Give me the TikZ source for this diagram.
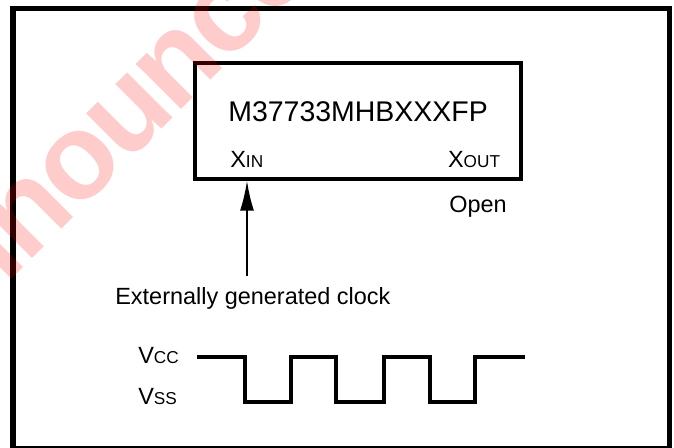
\documentclass[tikz,border=0pt]{standalone}
\usepackage{fontspec}
\setmainfont{Liberation Sans}
\newfontfamily\markfont[LetterSpace=-3]{Liberation Sans Bold}
\usetikzlibrary{arrows.meta,positioning}
\newcommand{\pinname}[2]{#1{\fontsize{9.8}{10}\selectfont #2}}
\tikzset{
  lbl/.style={inner sep=0pt,anchor=base west,font=\fontsize{13.35}{15}\selectfont},
}
\begin{document}
\begin{tikzpicture}[x=0.02cm,y=0.02cm,>={Latex[length=0.6cm,width=0.28cm]}]
\useasboundingbox (0,0) rectangle (674,448);
% outer frame
\draw[line width=0.11cm] (13,-0.5) rectangle (669.7,439.5);
% chip
\node[draw,line width=0.08cm,minimum width=6.53cm,minimum height=2.304cm,inner sep=0pt] (chip) at (357.75,326.9) {};
\node[lbl,font=\fontsize{16.2}{18}\selectfont] (part) at (228,326.3) {M37733MHBXXXFP};
\node[lbl] (xin) at (230,280) {\pinname{X}{IN}};
\node[lbl] (xout) at (447.7,280) {\pinname{X}{OUT}};
\node[lbl] (open) at (449,235) {Open};
% clock input
\node[lbl] (clk) at (115,143) {Externally generated clock};
\coordinate (clktop) at (247,172.3);
\draw[->,line width=0.04cm] (clktop) -- (clktop |- chip.south);
% waveform
\node[lbl] (vcc) at (138,84.7) {\pinname{V}{CC}};
\node[lbl] (vss) at (138,43) {\pinname{V}{SS}};
\draw[line width=0.08cm] (197.3,91.3) -- (245.3,91.3) -- (245.3,45.7) -- (291,45.7) -- (291,91.3)
  -- (336,91.3) -- (336,45.7) -- (384,45.7) -- (384,91.3) -- (430,91.3) -- (430,45.7)
  -- (475.3,45.7) -- (475.3,91.3) -- (525,91.3);
% watermark
\node[inner sep=0pt,anchor=base west,rotate=45,text=red,text opacity=0.2,
  font=\fontsize{69}{72}\selectfont\markfont] (mark) at (-83,74) {Announce};
\end{tikzpicture}
\end{document}
